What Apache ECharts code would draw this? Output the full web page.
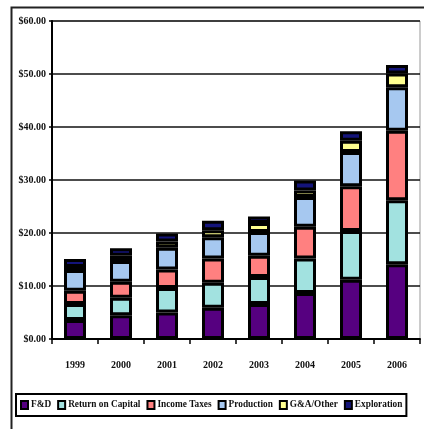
<!DOCTYPE html>
<html>
<head>
<meta charset="utf-8">
<script src="https://cdn.jsdelivr.net/npm/echarts@6/dist/echarts.min.js"></script>
<style>html,body{margin:0;padding:0;background:#fff;}#c{width:424px;height:429px;}</style>
</head>
<body>
<div id="c"></div>
<script>
const years = ['1999','2000','2001','2002','2003','2004','2005','2006'];
const fnd        = [3.6, 4.5, 5.0, 5.9, 6.6, 8.7, 11.2, 14.1];
const returnCap  = [3.0, 3.3, 4.6, 4.7, 5.1, 6.5, 9.2, 12.1];
const incomeTax  = [2.5, 3.0, 3.5, 4.6, 4.0, 6.0, 8.4, 13.1];
const production = [3.9, 3.9, 4.1, 4.0, 4.5, 5.6, 6.5, 8.2];
const gaOther    = [0.6, 1.0, 1.2, 1.3, 1.7, 1.2, 2.1, 2.6];
const exploration= [1.5, 1.4, 1.5, 1.8, 1.2, 1.9, 1.8, 1.6];
const yTicks = ['$0.00','$10.00','$20.00','$30.00','$40.00','$50.00','$60.00'];

const names  = ['F&D','Return on Capital','Income Taxes','Production','G&A/Other','Exploration'];
const datas  = [fnd, returnCap, incomeTax, production, gaOther, exploration];
const colors = ['#560080','#a2e2e0','#ff8080','#a6c8f0','#ffff90','#14147a'];

const serif = 'Liberation Serif';
const chart = echarts.init(document.getElementById('c'), null, {renderer:'canvas'});
chart.setOption({
  animation: false,
  backgroundColor: '#fff',
  grid: {left: 52, right: 4, top: 21, bottom: 90, show: true, borderColor: '#999', borderWidth: 1},
  xAxis: {
    type: 'category', data: years,
    axisLine: {lineStyle: {color: '#000', width: 2}},
    axisTick: {show: true, length: 5, lineStyle: {color: '#000', width: 1.5}},
    axisLabel: {margin: 21, color: '#111', fontFamily: serif, fontWeight: 'bold', fontSize: 10}
  },
  yAxis: {
    type: 'value', min: 0, max: 60, interval: 10,
    axisLine: {show: true, lineStyle: {color: '#000', width: 2}},
    axisTick: {show: true, length: 3, lineStyle: {color: '#000', width: 1.5}},
    splitLine: {lineStyle: {color: '#111', width: 1.5}},
    axisLabel: {margin: 6, color: '#111', fontFamily: serif, fontWeight: 'bold', fontSize: 10,
      formatter: v => yTicks[Math.round(v/10)]}
  },
  legend: {
    left: 16, top: 394, orient: 'horizontal',
    padding: [6, 4], borderColor: '#000', borderWidth: 2,
    icon: 'rect',
    itemWidth: 7, itemHeight: 8, itemGap: 6,
    itemStyle: {borderColor: '#000', borderWidth: 2},
    textStyle: {fontFamily: serif, fontWeight: 'bold', fontSize: 9.3, color: '#111', padding: [0,0,0,-2]},
    data: names
  },
  graphic: [
    {type: 'rect', left: 9, top: 5, shape: {width: 430, height: 440},
     style: {fill: null, stroke: '#222', lineWidth: 2}, z: 0, silent: true}
  ],
  series: names.map((n, i) => ({
    name: n, type: 'bar', stack: 'all', data: datas[i],
    barWidth: 22,
    itemStyle: {color: colors[i], borderColor: '#000', borderWidth: 3}
  }))
});
</script>
</body>
</html>
